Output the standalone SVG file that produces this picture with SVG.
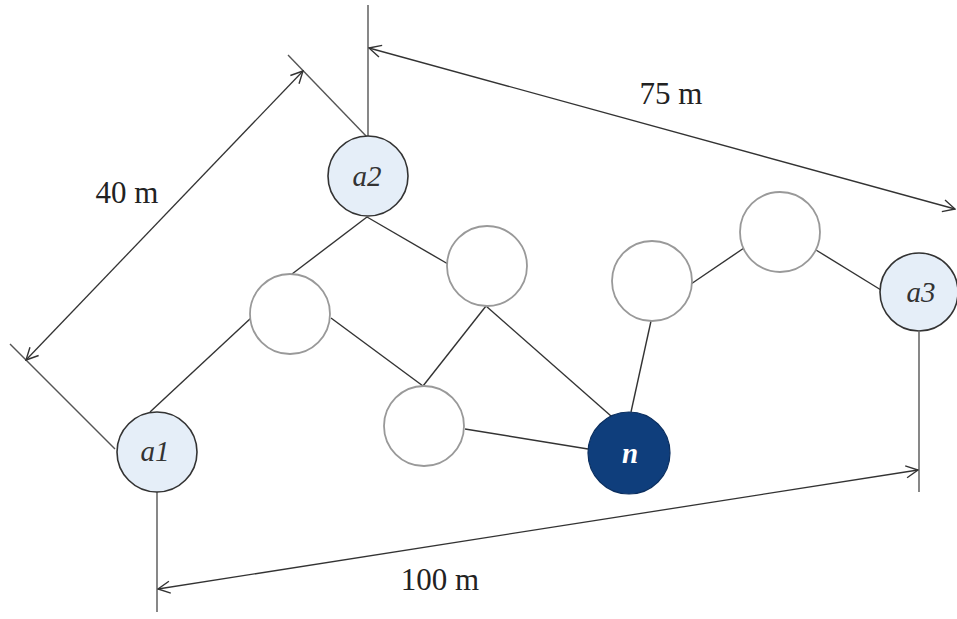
<svg xmlns="http://www.w3.org/2000/svg" width="957" height="619" viewBox="0 0 957 619">
<style>
.ln{stroke:#333;stroke-width:1.4;fill:none}
.dim{stroke:#333;stroke-width:1.3;fill:none}
.ext{stroke:#555;stroke-width:1.4;fill:none}
.anchor{fill:#e5eef8;stroke:#333;stroke-width:1.6}
.empty{fill:#fff;stroke:#999;stroke-width:1.8}
.tgt{fill:#0f3e7c;stroke:#0b2f60;stroke-width:1.2}
.lab{font-family:"Liberation Serif",serif;font-size:31px;fill:#222;text-anchor:middle}
.nl{font-family:"Liberation Serif",serif;font-style:italic;font-size:29px;fill:#333;text-anchor:middle}
</style>
<defs>
<marker id="ah" viewBox="0 0 14 14" refX="13" refY="7" markerWidth="14" markerHeight="14" markerUnits="userSpaceOnUse" orient="auto-start-reverse">
<path d="M1,1 L13,7 L1,13" fill="none" stroke="#333" stroke-width="1.4"/>
</marker>
</defs>
<rect width="957" height="619" fill="#fff"/>
<g id="connectors">
<line class="ln" x1="150" y1="412" x2="251" y2="318"/>
<line class="ln" x1="292" y1="274" x2="367" y2="217"/>
<line class="ln" x1="367" y1="217" x2="448" y2="264"/>
<line class="ln" x1="331" y1="318" x2="423" y2="386"/>
<line class="ln" x1="486" y1="306" x2="423" y2="386"/>
<line class="ln" x1="486" y1="306" x2="611" y2="416"/>
<line class="ln" x1="465" y1="429" x2="588" y2="449"/>
<line class="ln" x1="631" y1="412" x2="651" y2="321"/>
<line class="ln" x1="691" y1="284" x2="744" y2="248"/>
<line class="ln" x1="816" y1="250" x2="881" y2="290"/>
</g>
<g id="dimensions">
<line class="ext" x1="10" y1="344" x2="115" y2="449"/>
<line class="ext" x1="288" y1="55" x2="367" y2="137"/>
<line class="dim" x1="26" y1="360" x2="303" y2="71" marker-start="url(#ah)" marker-end="url(#ah)"/>
<line class="ext" x1="368" y1="5" x2="368" y2="136"/>
<line class="dim" x1="369" y1="48" x2="955" y2="209" marker-start="url(#ah)" marker-end="url(#ah)"/>
<line class="ext" x1="919" y1="332" x2="919" y2="492"/>
<line class="ext" x1="157" y1="492" x2="157" y2="612"/>
<line class="dim" x1="158" y1="589" x2="918" y2="470" marker-start="url(#ah)" marker-end="url(#ah)"/>
<text class="lab" x="127" y="203">40 m</text>
<text class="lab" x="671" y="104">75 m</text>
<text class="lab" x="440" y="590">100 m</text>
</g>
<g id="node-a1"><circle class="anchor" cx="157" cy="452" r="40"/><text class="nl" x="155" y="461">a1</text></g>
<g id="node-a2"><circle class="anchor" cx="368" cy="176" r="40"/><text class="nl" x="367" y="186">a2</text></g>
<g id="node-a3"><circle class="anchor" cx="919" cy="292" r="39"/><text class="nl" x="921" y="302">a3</text></g>
<g id="node-n"><circle class="tgt" cx="629" cy="453" r="41"/><text class="nl" x="630" y="463" style="fill:#fff;font-weight:bold">n</text></g>
<g id="node-c1"><circle class="empty" cx="290" cy="314" r="40"/></g>
<g id="node-c2"><circle class="empty" cx="487" cy="266" r="40"/></g>
<g id="node-c3"><circle class="empty" cx="424" cy="426" r="40"/></g>
<g id="node-c4"><circle class="empty" cx="652" cy="281" r="40"/></g>
<g id="node-c5"><circle class="empty" cx="780" cy="232" r="40"/></g>
</svg>
